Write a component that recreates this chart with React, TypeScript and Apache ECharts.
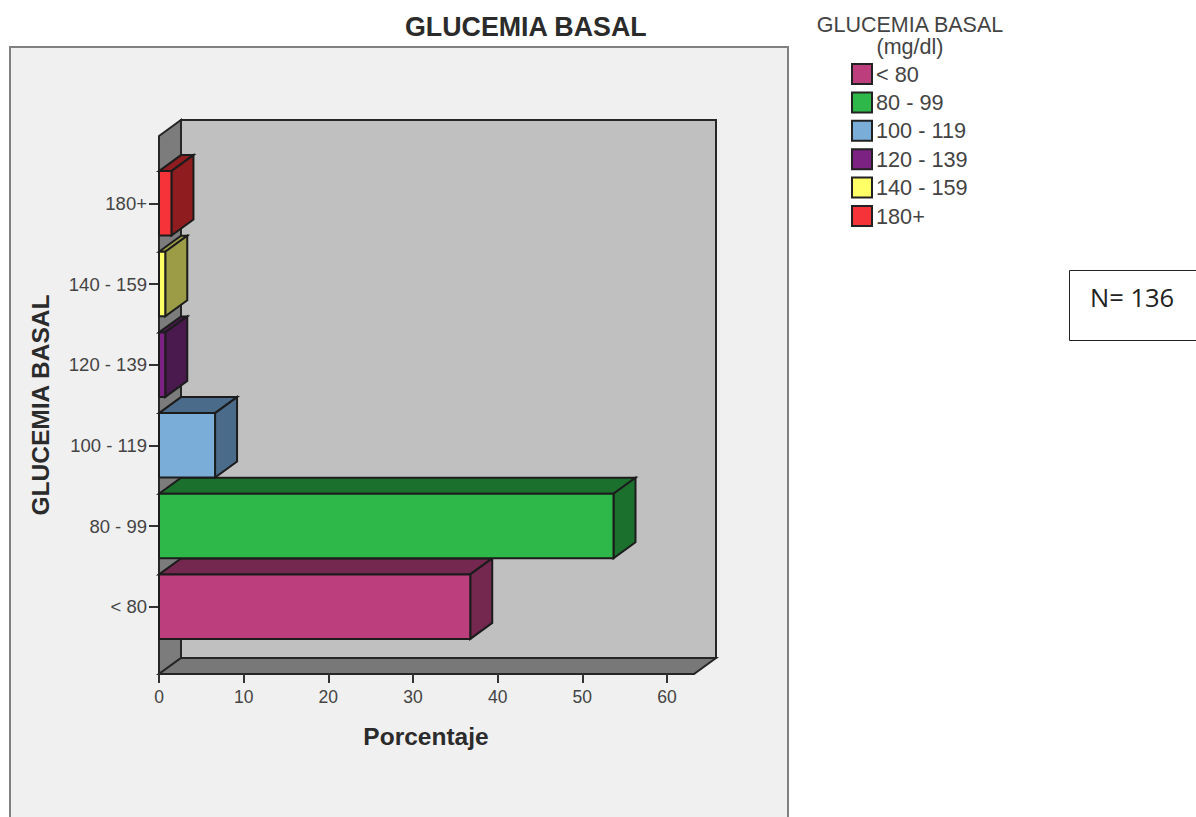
import React, { useEffect, useRef } from "react";
import * as echarts from "echarts";

// Glucose bands and the share of the 136 patients in each one (percent)
const categories = ["< 80", "80 - 99", "100 - 119", "120 - 139", "140 - 159", "180+"];
const percentages = [36.76, 53.68, 6.62, 0.74, 0.74, 1.47];
const xTicks = [0, 10, 20, 30, 40, 50, 60];

const faceColors = ["#bc3e7c", "#2fb84a", "#7badd9", "#7b2283", "#ffff66", "#f63338"];
const shadeColors = ["#74274f", "#1c702e", "#4b6b8b", "#4a1a4f", "#9c9c47", "#8f1d20"];

const FONT = "Liberation Sans";
const EDGE = "#1c1c1c";
const DEPTH_X = 22;
const DEPTH_Y = -16;

// Extruded horizontal bar: front face plus top and end faces pushed back by the box depth
function renderBar(index: number) {
  return (_params: any, api: any) => {
    const [x1, yc] = api.coord([api.value(0), api.value(1)]);
    const [x0] = api.coord([0, api.value(1)]);
    const h = api.size([0, 1])[1] * 0.8;
    const top = yc - h / 2;
    const bottom = yc + h / 2;
    const edge = { stroke: EDGE, lineWidth: 2 };
    return {
      type: "group",
      children: [
        {
          type: "polygon",
          shape: {
            points: [
              [x0, top],
              [x0 + DEPTH_X, top + DEPTH_Y],
              [x1 + DEPTH_X, top + DEPTH_Y],
              [x1, top],
            ],
          },
          style: { fill: shadeColors[index], ...edge },
        },
        {
          type: "polygon",
          shape: {
            points: [
              [x1, top],
              [x1 + DEPTH_X, top + DEPTH_Y],
              [x1 + DEPTH_X, bottom + DEPTH_Y],
              [x1, bottom],
            ],
          },
          style: { fill: shadeColors[index], ...edge },
        },
        {
          type: "rect",
          shape: { x: x0, y: top, width: x1 - x0, height: h },
          style: { fill: faceColors[index], ...edge },
        },
      ],
    };
  };
}

export default function App() {
  const ref = useRef<HTMLDivElement>(null);

  useEffect(() => {
    document.body.style.margin = "0";
    const chart = echarts.init(ref.current!, undefined, { renderer: "svg" });
    const wallEdge = { stroke: "#262626", lineWidth: 2 };
    const legendHeading = {
      fontFamily: FONT,
      fontSize: 21.5,
      fontWeight: "normal",
      color: "#444444",
    };

    chart.setOption({
      animation: false,
      backgroundColor: "#ffffff",
      textStyle: { fontFamily: FONT },
      title: [
        {
          text: "GLUCEMIA BASAL",
          left: 405,
          top: 13,
          padding: 0,
          textStyle: { fontFamily: FONT, fontSize: 26.8, fontWeight: "bold", color: "#2b2b2b" },
        },
        {
          text: "GLUCEMIA BASAL",
          left: 910,
          top: 14,
          padding: 0,
          textAlign: "center",
          textStyle: legendHeading,
        },
        {
          text: "(mg/dl)",
          left: 910,
          top: 36,
          padding: 0,
          textAlign: "center",
          textStyle: legendHeading,
        },
      ],
      legend: {
        left: 851,
        top: 63,
        orient: "vertical",
        data: categories,
        selectedMode: false,
        icon: "rect",
        itemWidth: 20,
        itemHeight: 20,
        itemGap: 6.4,
        padding: 0,
        itemStyle: { borderColor: "#222222", borderWidth: 2 },
        textStyle: {
          fontFamily: FONT,
          fontSize: 21.7,
          lineHeight: 22,
          color: "#444444",
          padding: [0, 0, 0, -1],
        },
      },
      grid: { left: 159, width: 508, top: 163, height: 484, containLabel: false },
      xAxis: {
        type: "value",
        min: 0,
        max: 60,
        interval: 10,
        offset: 27,
        name: "Porcentaje",
        nameLocation: "middle",
        nameGap: 50,
        nameTextStyle: {
          fontFamily: FONT,
          fontSize: 24.5,
          fontWeight: "bold",
          color: "#2b2b2b",
          padding: [0, 0, 0, 26],
        },
        splitLine: { show: false },
        axisLine: { show: false },
        axisTick: { show: true, length: 9, lineStyle: { color: "#333333", width: 2 } },
        axisLabel: {
          margin: 14,
          fontFamily: FONT,
          fontSize: 17.5,
          color: "#444444",
          customValues: xTicks,
        },
      },
      yAxis: {
        type: "category",
        data: categories,
        name: "GLUCEMIA BASAL",
        nameLocation: "middle",
        nameGap: 106,
        nameTextStyle: { fontFamily: FONT, fontSize: 24.5, fontWeight: "bold", color: "#2b2b2b" },
        axisLine: { show: false },
        axisTick: {
          show: true,
          alignWithLabel: true,
          length: 10,
          lineStyle: { color: "#333333", width: 2 },
        },
        axisLabel: {
          margin: 12,
          fontFamily: FONT,
          fontSize: 18.5,
          color: "#444444",
          padding: [6, 0, 0, 0],
        },
      },
      // Chart panel and the open box behind the bars
      graphic: [
        {
          type: "rect",
          z: 0,
          shape: { x: 10, y: 47, width: 778, height: 900 },
          style: { fill: "#f0f0f0", stroke: "#808080", lineWidth: 2 },
        },
        {
          type: "rect",
          z: 0,
          shape: { x: 181, y: 120, width: 535, height: 538 },
          style: { fill: "#c0c0c0", ...wallEdge },
        },
        {
          type: "polygon",
          z: 0,
          shape: { points: [[159, 136], [181, 120], [181, 658], [159, 674]] },
          style: { fill: "#7c7c7c", ...wallEdge },
        },
        {
          type: "polygon",
          z: 0,
          shape: { points: [[159, 674], [181, 658], [716, 658], [694, 674]] },
          style: { fill: "#787878", ...wallEdge },
        },
        {
          type: "rect",
          z: 0,
          shape: { x: 1069.5, y: 270.5, width: 130, height: 70 },
          style: { fill: "#ffffff", stroke: "#222222", lineWidth: 1 },
        },
        {
          type: "text",
          z: 1,
          x: 1090,
          y: 284,
          style: { text: "N= 136", fontFamily: "Open Sans", fontSize: 25.5, fill: "#222222" },
        },
      ],
      series: categories.map((name, i) => ({
        type: "custom",
        name,
        renderItem: renderBar(i),
        itemStyle: { color: faceColors[i] },
        encode: { x: 0, y: 1 },
        data: [[percentages[i], i]],
        z: 3,
      })),
    });

    return () => chart.dispose();
  }, []);

  return <div ref={ref} style={{ width: 1196, height: 817 }} />;
}
